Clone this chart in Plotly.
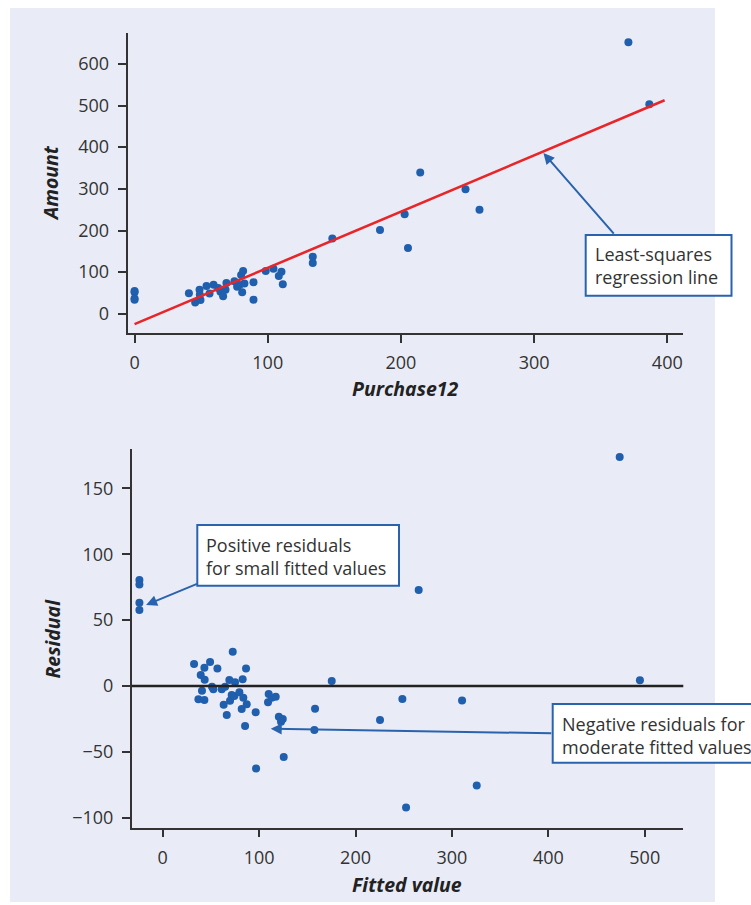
import plotly.graph_objects as go

W, H = 751, 905

# ---------------- data ----------------
purchase12 = [0, 0, 0, 0, 40.8, 45.5, 49.5, 48.8, 49.0, 56.3, 54.0, 59.3, 62.8, 64.5, 66.5,
              68.3, 69.0, 75.0, 77.0, 78.8, 80.0, 81.5, 80.8, 82.5, 89.3, 89.3,
              98.5, 104.3, 108.3, 110.3, 111.3, 133.8, 133.8, 148.5, 184.3, 202.8,
              205.3, 214.5, 248.5, 259.0, 370.8, 386.5]
amount = [55, 52, 37, 34, 49.6, 27, 33, 58, 46, 48.8, 67, 70, 62, 53, 42,
          58, 74, 78, 65, 69, 93, 103, 52, 73, 76, 34,
          103, 108, 91, 101, 71, 137, 122, 181, 201, 239,
          158, 339, 299, 250, 652, 503]

reg_x = [0, 398]
reg_y = [-24.7, 512.6]

fitted = [-24.2, -24.2, -24.2, -24.2, 32.5, 39.4, 43.2, 49.1, 56.7, 43.5, 51.1, 52.5,
          40.7, 37.0, 43.2, 61.2, 63.2, 66.4, 64.7, 69.1, 72.6, 75.0, 69.8, 71.5,
          74.3, 79.5, 82.9, 86.4, 83.6, 81.9, 87.1, 85.4, 96.4, 96.8, 109.9, 109.2,
          113.0, 117.2, 120.4, 124.5, 122.7, 125.5, 158.0, 157.3, 175.3, 225.4,
          248.6, 252.4, 265.5, 474.0, 495.0, 310.5, 325.7]
residual = [80.4, 77.1, 63.2, 57.7, 16.7, 8.3, 13.9, 18.2, 13.2, 4.8, -0.5, -2.5,
            -3.5, -10.1, -10.6, -2.5, -14.2, -22.0, -0.5, 4.6, 26.0, 2.8, -11.1, -6.8,
            -7.6, -4.8, 5.1, 13.2, -8.9, -17.5, -13.9, -30.3, -20.0, -62.5, -6.1, -12.4,
            -8.9, -8.1, -23.3, -25.0, -27.1, -53.9, -17.2, -33.4, 3.8, -25.8,
            -9.9, -92.1, 72.8, 173.7, 4.3, -10.9, -75.4]

top_xticks = [0, 100, 200, 300, 400]
top_yticks = [0, 100, 200, 300, 400, 500, 600]
bot_xticks = [0, 100, 200, 300, 400, 500]
bot_yticks = [-100, -50, 0, 50, 100, 150]

# ---------------- styles ----------------
BLUE = "#1f5fad"
RED = "#e8262a"
BOX = "#2a63ad"
LAV = "#e9ecf6"
TXT = "#333333"
FONT = "Open Sans"


def px(x):
    return x / W


def py(y):
    return 1 - y / H


fig = go.Figure()

fig.add_trace(go.Scatter(x=purchase12, y=amount, mode="markers",
                         marker=dict(color=BLUE, size=8), xaxis="x", yaxis="y",
                         showlegend=False, hoverinfo="skip"))
fig.add_trace(go.Scatter(x=reg_x, y=reg_y, mode="lines",
                         line=dict(color=RED, width=2.6), xaxis="x", yaxis="y",
                         showlegend=False, hoverinfo="skip"))
fig.add_trace(go.Scatter(x=fitted, y=residual, mode="markers",
                         marker=dict(color=BLUE, size=8), xaxis="x2", yaxis="y2",
                         showlegend=False, hoverinfo="skip"))

axis_common = dict(showgrid=False, zeroline=False, showline=True, linecolor="#333",
                   linewidth=1.5, ticks="outside", ticklen=8, tickwidth=1.5,
                   tickcolor="#333", tickfont=dict(family=FONT, size=18, color=TXT),
                   ticklabelstandoff=5, fixedrange=True)

fig.update_layout(
    width=W, height=H,
    margin=dict(l=0, r=0, t=0, b=0),
    paper_bgcolor="white",
    plot_bgcolor="white",
    xaxis=dict(domain=[px(127.5), px(683)], range=[-5.3, 411.8], anchor="y",
               tickvals=top_xticks, **axis_common),
    yaxis=dict(domain=[py(333), py(33)], range=[-46, 674], anchor="x",
               tickvals=top_yticks, **axis_common),
    xaxis2=dict(domain=[px(131.7), px(683.3)], range=[-32.2, 540], anchor="y2",
                tickvals=bot_xticks, **axis_common),
    yaxis2=dict(domain=[py(827.7), py(449.3)], range=[-107.5, 179.6], anchor="x2",
                tickvals=bot_yticks, **axis_common),
)

shapes = [
    # lavender panel
    dict(type="rect", xref="paper", yref="paper", x0=px(10), x1=px(715),
         y0=py(902), y1=py(8), fillcolor=LAV, line=dict(width=0), layer="below"),
    # zero line in residual plot
    dict(type="line", xref="x2 domain", yref="y2", x0=0, x1=1, y0=0, y1=0,
         line=dict(color="#222", width=2.5), layer="above"),
    # annotation boxes
    dict(type="rect", xref="paper", yref="paper", x0=px(585.7), x1=px(731.5),
         y0=py(295.7), y1=py(235), fillcolor="white", line=dict(color=BOX, width=2)),
    dict(type="rect", xref="paper", yref="paper", x0=px(197.3), x1=px(399),
         y0=py(585.7), y1=py(525), fillcolor="white", line=dict(color=BOX, width=2)),
    dict(type="rect", xref="paper", yref="paper", x0=px(552.7), x1=px(762),
         y0=py(762.7), y1=py(704), fillcolor="white", line=dict(color=BOX, width=2)),
]
fig.update_layout(shapes=shapes)

ann_font = dict(family=FONT, size=18, color=TXT)
title_font = dict(family=FONT, size=19.5, color="#222")

annotations = [
    # box texts
    dict(xref="paper", yref="paper", x=px(593), y=py(265.5), xanchor="left",
         yanchor="middle", align="left", showarrow=False, font=ann_font,
         text="Least-squares<br>regression line"),
    dict(xref="paper", yref="paper", x=px(204), y=py(556), xanchor="left",
         yanchor="middle", align="left", showarrow=False, font=ann_font,
         text="Positive residuals<br>for small fitted values"),
    dict(xref="paper", yref="paper", x=px(560), y=py(735.5), xanchor="left",
         yanchor="middle", align="left", showarrow=False, font=ann_font,
         text="Negative residuals for<br>moderate fitted values"),
    # arrows
    dict(xref="x", yref="y", axref="x", ayref="y", x=307, y=386, ax=360.8, ay=189,
         text="", showarrow=True, arrowhead=2, arrowsize=1.1, arrowwidth=2,
         arrowcolor=BOX, standoff=0, startstandoff=0),
    dict(xref="x2", yref="y2", axref="x2", ayref="y2", x=-17.3, y=61.5, ax=37.1, ay=78.0,
         text="", showarrow=True, arrowhead=2, arrowsize=1.1, arrowwidth=2,
         arrowcolor=BOX, standoff=0, startstandoff=0),
    dict(xref="x2", yref="y2", axref="x2", ayref="y2", x=112, y=-32.4, ax=404.6, ay=-35.9,
         text="", showarrow=True, arrowhead=2, arrowsize=1.1, arrowwidth=2,
         arrowcolor=BOX, standoff=0, startstandoff=0),
    # axis titles
    dict(xref="paper", yref="paper", x=px(405), y=py(388), xanchor="center",
         yanchor="middle", showarrow=False, font=title_font,
         text="<b><i>Purchase12</i></b>"),
    dict(xref="paper", yref="paper", x=px(50), y=py(183), xanchor="center",
         yanchor="middle", showarrow=False, font=title_font, textangle=-90,
         text="<b><i>Amount</i></b>"),
    dict(xref="paper", yref="paper", x=px(407), y=py(884), xanchor="center",
         yanchor="middle", showarrow=False, font=title_font,
         text="<b><i>Fitted value</i></b>"),
    dict(xref="paper", yref="paper", x=px(51.5), y=py(639), xanchor="center",
         yanchor="middle", showarrow=False, font=title_font, textangle=-90,
         text="<b><i>Residual</i></b>"),
]
fig.update_layout(annotations=annotations)

fig.write_html("out.html")
